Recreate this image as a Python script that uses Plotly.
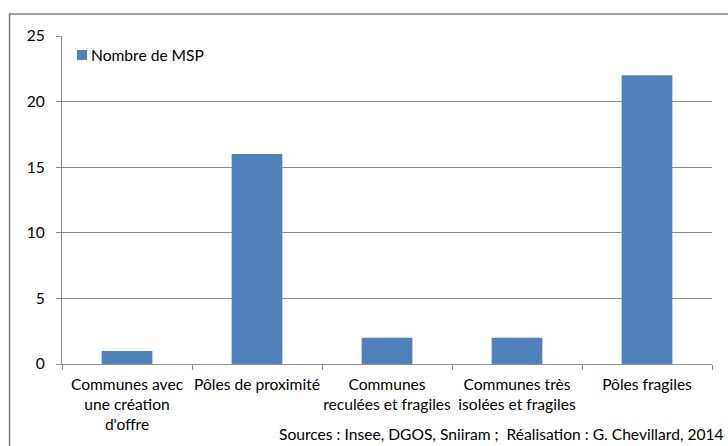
import plotly.graph_objects as go

# Categories of communes and number of MSP in each
categories = [
    "Communes avec<br>une création<br>d'offre",
    "Pôles de proximité",
    "Communes<br>reculées et fragiles",
    "Communes très<br>isolées et fragiles",
    "Pôles fragiles",
]
msp_counts = [1, 16, 2, 2, 22]
y_ticks = [0, 5, 10, 15, 20, 25]

series_name = "Nombre de MSP"
source_text = "Sources : Insee, DGOS, Sniiram ;  Réalisation : G. Chevillard, 2014"
bar_color = "#4F81BD"

W, H = 728, 446
L, R, T, B = 62, 16, 36, 82
pw, ph = W - L - R, H - T - B


def px_x(x):
    return (x - L) / pw


def px_y(y):
    return 1 - (y - T) / ph


font = dict(family="Lato, Carlito, Calibri, sans-serif", size=15.6, color="#000000")
grey = "#8c8c8c"

fig = go.Figure()
fig.add_trace(go.Bar(
    x=categories,
    y=msp_counts,
    name=series_name,
    marker=dict(color=bar_color, line=dict(width=0)),
    showlegend=False,
))

fig.update_layout(
    width=W,
    height=H,
    margin=dict(l=L, r=R, t=T, b=B, autoexpand=False),
    paper_bgcolor="white",
    plot_bgcolor="white",
    font=font,
    bargap=0.61,
    showlegend=False,
    xaxis=dict(
        type="category", automargin=False, tickangle=0,
        showline=True, linecolor=grey, linewidth=1,
        ticks="outside", tickson="boundaries", ticklen=5, tickcolor=grey,
        showgrid=False, tickfont=font, fixedrange=True,
        ticklabelstandoff=6,
    ),
    yaxis=dict(
        range=[0, 25], tickvals=y_ticks, automargin=False,
        showline=True, linecolor=grey, linewidth=1,
        ticks="outside", ticklen=5, tickcolor=grey,
        showgrid=True, gridcolor=grey, gridwidth=1,
        zeroline=False, tickfont=font, ticklabelstandoff=8,
    ),
    shapes=[
        # outer chart frame
        dict(
            type="rect", xref="paper", yref="paper",
            x0=px_x(9.5), x1=px_x(740), y0=px_y(460), y1=px_y(14),
            line=dict(color="#7f7f7f", width=1.5), fillcolor="rgba(0,0,0,0)",
            layer="below",
        ),
        # legend key
        dict(
            type="rect", xref="paper", yref="paper",
            x0=px_x(77), x1=px_x(87), y0=px_y(60), y1=px_y(50),
            line=dict(width=0), fillcolor=bar_color,
        ),
    ],
    annotations=[
        dict(
            text=series_name, xref="paper", yref="paper",
            x=px_x(89), y=px_y(55), xanchor="left", yanchor="middle",
            showarrow=False, font=font,
        ),
        dict(
            text=source_text, xref="paper", yref="paper",
            x=px_x(726), y=px_y(445), xanchor="right", yanchor="bottom",
            showarrow=False, font=font,
        ),
    ],
)

fig.write_html("out.html")
